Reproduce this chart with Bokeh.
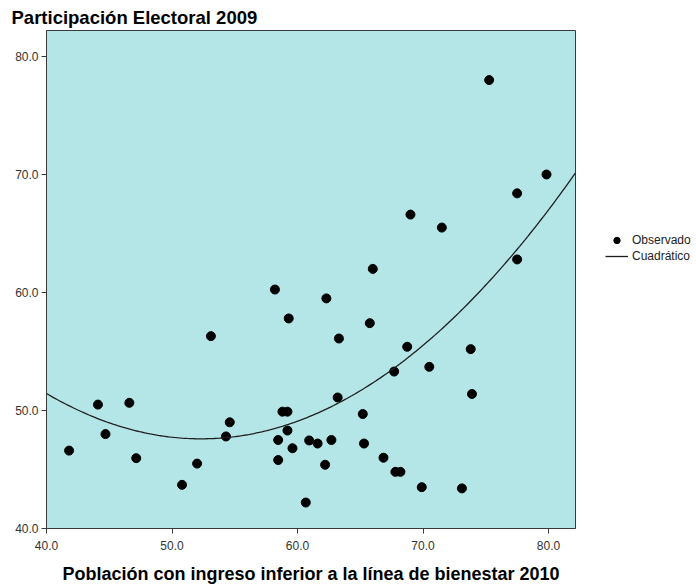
import numpy as np
from bokeh.plotting import figure
from bokeh.layouts import row
from bokeh.models import Legend, LegendItem, Range1d, FixedTicker
from bokeh.embed import file_html
from bokeh.resources import INLINE

# Observed data (poverty % 2010 vs electoral participation % 2009)
pobreza = [41.8, 44.1, 44.7, 46.6, 47.15, 50.8, 52.0, 53.1, 54.6, 54.3,
           58.2, 58.46, 58.46, 58.8, 59.2, 59.2, 59.6, 59.3, 60.66, 60.93,
           61.6, 62.2, 62.7, 63.2, 62.3, 63.3, 65.2, 65.3, 66.85, 67.8,
           68.2, 69.9, 73.1, 73.9, 66.0, 65.76, 69.0, 71.5, 68.74, 67.7,
           70.5, 73.8, 77.5, 77.5, 75.27, 79.84]
participacion = [46.6, 50.5, 48.0, 50.65, 45.96, 43.7, 45.5, 56.3, 49.0, 47.8,
                 60.25, 47.5, 45.8, 49.9, 49.9, 48.3, 46.8, 57.8, 42.2, 47.46,
                 47.2, 45.4, 47.5, 51.1, 59.5, 56.1, 49.7, 47.2, 46.0, 44.8,
                 44.8, 43.5, 43.4, 51.4, 62.0, 57.4, 66.6, 65.5, 55.4, 53.3,
                 53.7, 55.2, 68.4, 62.8, 78.0, 70.0]

x_ticks = [40, 50, 60, 70, 80]
y_ticks = [40, 50, 60, 70, 80]
titulo = "Participación Electoral 2009"
eje_x = "Población con ingreso inferior a la línea de bienestar 2010"
leyenda = ["Observado", "Cuadrático"]

# quadratic fit of the observed data
coef = np.polyfit(pobreza, participacion, 2)
xc = np.linspace(40, 82.15, 200)
yc = np.polyval(coef, xc)

FONT = "Liberation Sans"
p = figure(width=580, height=587, output_backend="svg", toolbar_location=None,
           x_range=Range1d(40, 82.15), y_range=Range1d(40, 82.2),
           min_border_left=46, min_border_right=5, min_border_top=30,
           min_border_bottom=59, title=titulo)

p.background_fill_color = "#B4E6E8"
p.border_fill_color = "white"
p.outline_line_color = "#3a3a3a"
p.outline_line_width = 1
p.grid.visible = False

p.title.text_font = FONT
p.title.text_font_size = "18.5px"
p.title.text_font_style = "bold"
p.title.text_color = "black"
p.title.align = "left"
p.title.offset = -35
p.title.standoff = 5

for ax, ticks in ((p.xaxis, x_ticks), (p.yaxis, y_ticks)):
    ax.ticker = FixedTicker(ticks=ticks)
    ax.minor_tick_line_color = None
    ax.major_tick_in = 0
    ax.major_tick_out = 5
    ax.major_tick_line_color = "#3a3a3a"
    ax.axis_line_color = "#3a3a3a"
    ax.major_label_text_font = FONT
    ax.major_label_text_font_size = "12px"
    ax.major_label_text_color = "#333333"
p.xaxis.major_label_overrides = {t: f"{t:.1f}" for t in x_ticks}
p.yaxis.major_label_overrides = {t: f"{t:.1f}" for t in y_ticks}
p.xaxis.major_label_standoff = 7
p.yaxis.major_label_standoff = 3

p.xaxis.axis_label = eje_x
p.xaxis.axis_label_text_font = FONT
p.xaxis.axis_label_text_font_size = "18px"
p.xaxis.axis_label_text_font_style = "bold"
p.xaxis.axis_label_text_color = "black"
p.xaxis.axis_label_standoff = 11

p.scatter(pobreza, participacion, size=9, color="black")
p.line(xc, yc, line_color="#1e1e1e", line_width=1.3)

# legend panel to the right of the plot (sample glyphs kept outside its range)
pl = figure(width=116, height=587, output_backend="svg", toolbar_location=None,
            x_range=Range1d(0, 1), y_range=Range1d(0, 1),
            x_axis_type=None, y_axis_type=None,
            min_border_left=0, min_border_right=0, min_border_top=0,
            min_border_bottom=0)
pl.outline_line_color = None
pl.grid.visible = False
pl.background_fill_color = "white"
lp = pl.scatter([-5], [-5], size=9, color="black")
ll = pl.line([-5, -4], [-5, -5], line_color="#1e1e1e", line_width=1.3)
legend = Legend(items=[LegendItem(label=leyenda[0], renderers=[lp]),
                       LegendItem(label=leyenda[1], renderers=[ll])],
                location=(25, 264), padding=0, margin=0, spacing=0,
                glyph_width=23, glyph_height=16, label_height=16,
                label_standoff=4, label_text_font=FONT,
                label_text_font_size="12px", label_text_color="#222222",
                background_fill_alpha=0, border_line_alpha=0)
pl.add_layout(legend, "center")

layout = row(p, pl)
open("out.html", "w").write(file_html(layout, INLINE))
